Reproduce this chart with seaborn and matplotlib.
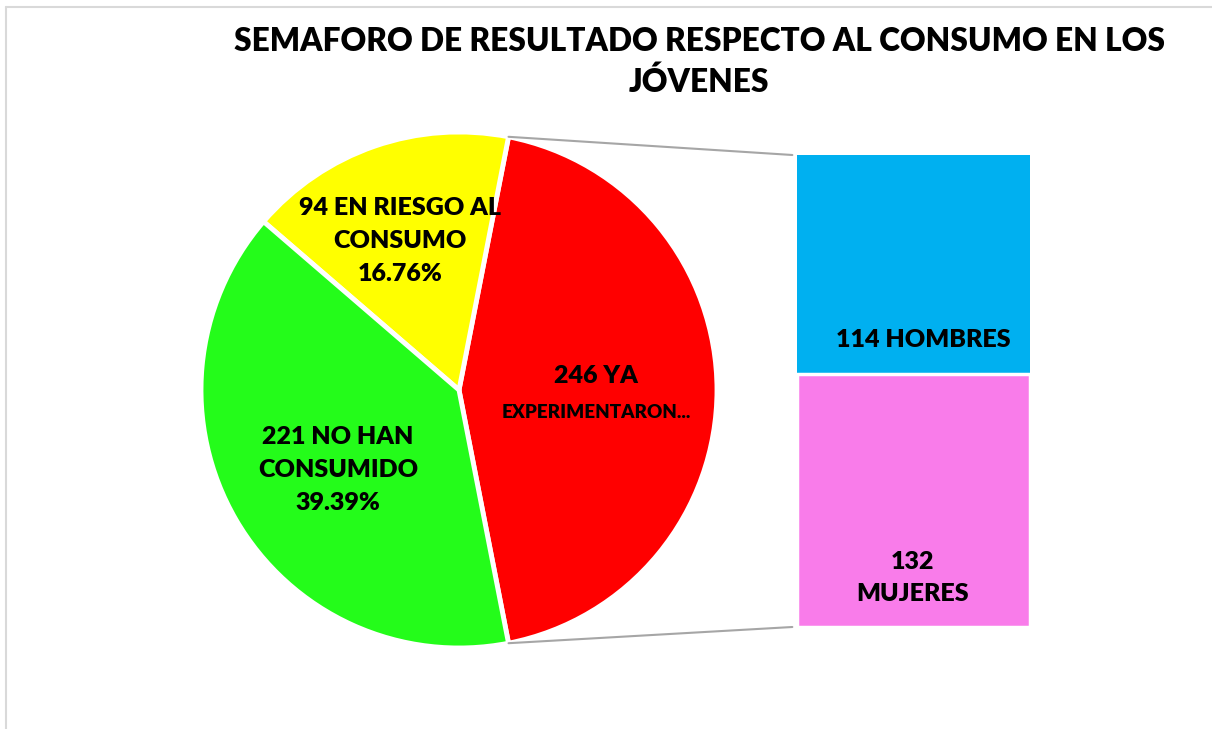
"""Bar-of-pie: semaforo de resultado respecto al consumo en los jovenes."""
import matplotlib
matplotlib.use("Agg")
import matplotlib.pyplot as plt
from matplotlib.patches import ConnectionPatch
from matplotlib.lines import Line2D
import numpy as np
import seaborn as sns

# Pie data (main categories)
pie_labels = ["246 YA\nEXPERIMENTARON...", "94 EN RIESGO AL\nCONSUMO\n16.76%",
              "221 NO HAN\nCONSUMIDO\n39.39%"]
pie_values = [246, 94, 221]
pie_colors = ["#FF0000", "#FFFF00", "#24FC1A"]

# Breakdown of the "ya experimentaron" slice
bar_labels = ["114 HOMBRES", "132\nMUJERES"]
bar_values = [114, 132]
bar_colors = ["#00B0F0", "#F97CEA"]

TITLE = "SEMAFORO DE RESULTADO RESPECTO AL CONSUMO EN LOS\nJÓVENES"

sns.set_theme(style="white")
plt.rcParams["font.family"] = ["Lato", "DejaVu Sans"]
plt.rcParams["text.color"] = "black"

W, H = 1212, 729
fig = plt.figure(figsize=(W / 100, H / 100), dpi=100)
fig.patch.set_facecolor("white")

# chart frame (only top and left edges visible)
fig.add_artist(Line2D([6 / W, 1], [1 - 7 / H, 1 - 7 / H], color="#D9D9D9", lw=1.5))
fig.add_artist(Line2D([6 / W, 6 / W], [0, 1 - 7 / H], color="#D9D9D9", lw=1.5))

fig.text(699 / W, 1 - 62 / H, TITLE, ha="center", va="center", fontsize=22.8,
         fontweight="heavy", linespacing=1.45)

# pie axes: centre (459, 390) px, radius 258 px
cx, cy, r = 459, 390, 258
ax_pie = fig.add_axes([(cx - r) / W, (H - cy - r) / H, 2 * r / W, 2 * r / H])
total = sum(pie_values)
start = -pie_values[0] / total * 360 / 2
wedges, _ = ax_pie.pie(pie_values, colors=pie_colors, startangle=start,
                       counterclock=True, radius=1,
                       wedgeprops=dict(edgecolor="white", linewidth=3.5))
ax_pie.set_xlim(-1, 1)
ax_pie.set_ylim(-1, 1)
ax_pie.axis("off")

def px(x, y):
    return (x - cx) / r, (cy - y) / r

lab = dict(ha="center", va="center", fontweight="heavy", color="black")
ax_pie.text(*px(596, 376), "246 YA", fontsize=18, **lab)
ax_pie.text(*px(596, 413), "EXPERIMENTARON...", fontsize=13.5, **lab)
ax_pie.text(*px(400, 241), pie_labels[1], fontsize=18, linespacing=1.6, **lab)
ax_pie.text(*px(338, 470), pie_labels[2], fontsize=18, linespacing=1.6, **lab)

# stacked bar axes: x 797..1030, y 155..627 px
bx0, bx1, by0, by1 = 797, 1030, 155, 627
ax_bar = fig.add_axes([bx0 / W, (H - by1) / H, (bx1 - bx0) / W, (by1 - by0) / H])
sns.barplot(x=[""], y=[sum(bar_values)], color=bar_colors[0], width=1,
            saturation=1, ax=ax_bar, edgecolor="white", linewidth=0)
sns.barplot(x=[""], y=[bar_values[1]], color=bar_colors[1], width=1,
            saturation=1, ax=ax_bar, edgecolor="white", linewidth=2.5)
ax_bar.set_xlim(-0.5, 0.5)
ax_bar.set_ylim(0, sum(bar_values))
ax_bar.axis("off")

def bpx(x, y):
    return (x - bx0) / (bx1 - bx0) - 0.5, (by1 - y) / (by1 - by0) * sum(bar_values)

ax_bar.text(*bpx(923, 340), bar_labels[0], fontsize=18, **lab)
ax_bar.text(*bpx(913, 578), bar_labels[1], fontsize=18, linespacing=1.6, **lab)

# connector lines from the slice edges to the bar
theta = np.deg2rad(pie_values[0] / total * 360 / 2)
for sign, ybar in [(1, sum(bar_values)), (-1, 0)]:
    con = ConnectionPatch(xyA=(np.cos(theta), sign * np.sin(theta)), coordsA=ax_pie.transData,
                          xyB=(-0.52, ybar), coordsB=ax_bar.transData,
                          color="#A6A6A6", lw=1.5)
    fig.add_artist(con)

fig.savefig("out.png", dpi=100, facecolor="white")
